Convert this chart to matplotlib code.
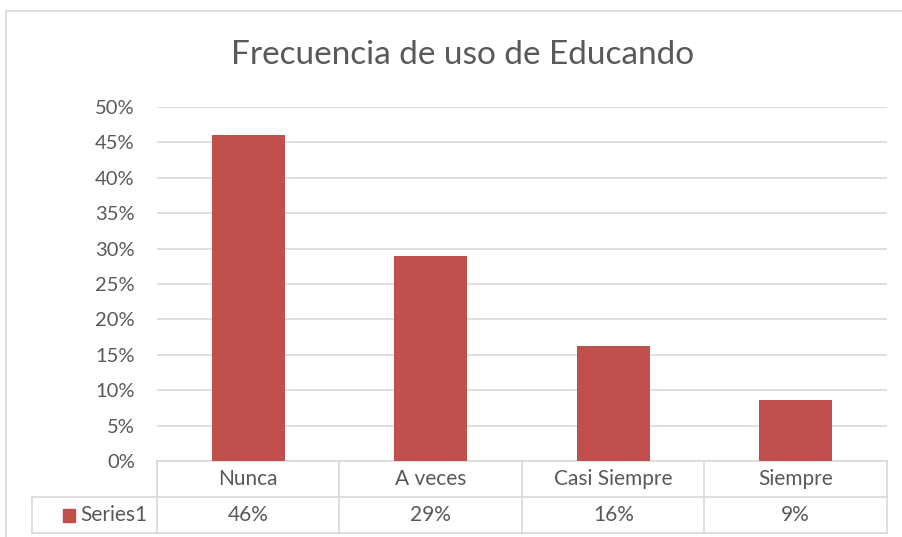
import matplotlib
matplotlib.use("Agg")
import matplotlib.pyplot as plt
from matplotlib.patches import Rectangle
import matplotlib.transforms as mtransforms

categories = ["Nunca", "A veces", "Casi Siempre", "Siempre"]
values = [0.46, 0.29, 0.163, 0.086]
series_name = "Series1"
yticks = [0, 0.05, 0.10, 0.15, 0.20, 0.25, 0.30, 0.35, 0.40, 0.45, 0.50]
title = "Frecuencia de uso de Educando"

FONT = "Lato"
TXT = "#595959"
GRID = "#d9d9d9"
BAR = "#c0504d"

W, H = 903, 537
fig = plt.figure(figsize=(W / 100, H / 100), dpi=100)
plt.rcParams['font.family'] = [FONT, 'DejaVu Sans']

# outer chart border
fig.patches.append(Rectangle((5.5 / W, -0.1), 1.2, 1.1 - 11 / H, transform=fig.transFigure,
                             fill=False, edgecolor=GRID, lw=1.2))

L, R, T, B = 157, 887, 107, 461
ax = fig.add_axes([L / W, 1 - B / H, (R - L) / W, (B - T) / H])
x = list(range(len(categories)))
ax.bar(x, values, width=0.4, color=BAR, zorder=3)
ax.set_xlim(-0.5, len(categories) - 0.5)
ax.set_ylim(0, 0.5)
ax.set_yticks(yticks)
ax.set_yticklabels([f"{int(round(v*100))}%" for v in yticks], fontsize=14.5, color=TXT)
ax.yaxis.grid(True, color=GRID, lw=1.2, zorder=0)
ax.set_xticks([])
for s in ax.spines.values():
    s.set_visible(False)
ax.tick_params(axis='y', length=0, pad=16)

fig.text(463 / W, 1 - 55 / H, title, ha='center', va='center', fontsize=24, color=TXT)

# data table
tr = mtransforms.blended_transform_factory(ax.transData, ax.transAxes)
px_x = (len(categories)) / (R - L)  # data units per pixel
row_h = 36 / (B - T)
y0, y1, y2 = 0, -row_h, -2 * row_h
xl = -0.5 - 125 * px_x
xr = len(categories) - 0.5
kw = dict(color=GRID, lw=1.2, transform=tr, clip_on=False)
ax.plot([-0.5, xr], [y0, y0], **kw)
ax.plot([xl, xr], [y1, y1], **kw)
ax.plot([xl, xr], [y2, y2], **kw)
ax.plot([xl, xl], [y1, y2], **kw)
for i in range(len(categories) + 1):
    ax.plot([i - 0.5, i - 0.5], [y0, y2], **kw)
for i, (c, v) in enumerate(zip(categories, values)):
    ax.text(i, (y0 + y1) / 2, c, ha='center', va='center', fontsize=15, color=TXT, transform=tr)
    ax.text(i, (y1 + y2) / 2, f"{round(v*100):.0f}%", ha='center', va='center', fontsize=15,
            color=TXT, transform=tr)
ax.add_patch(Rectangle((-0.5 - 94 * px_x, (y1 + y2) / 2 - 6.5 / (B - T)), 12 * px_x, 13 / (B - T),
                       transform=tr, clip_on=False, color=BAR))
ax.text(-0.5 - 77 * px_x, (y1 + y2) / 2, series_name, ha='left', va='center', fontsize=15,
        color=TXT, transform=tr)

fig.savefig("out.png", dpi=100)
